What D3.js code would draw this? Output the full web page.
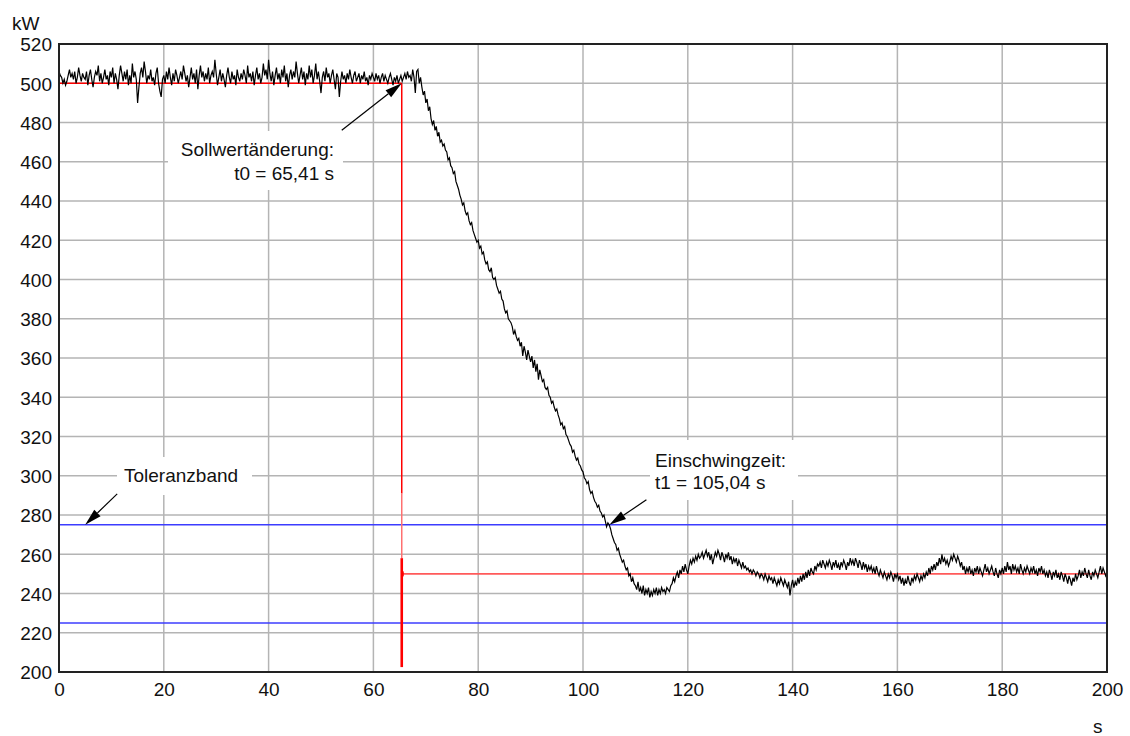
<!DOCTYPE html>
<html>
<head>
<meta charset="utf-8">
<script src="https://cdn.jsdelivr.net/npm/d3@7"></script>
<style>
  html, body { margin: 0; padding: 0; background: #fff; }
  svg { display: block; font-family: "Liberation Sans", Arial, Helvetica, sans-serif; }
</style>
</head>
<body>
<svg id="chart" width="1130" height="736"></svg>
<script>
// Leistungsverlauf bei Sollwertsprung 500 kW -> 250 kW, Abtastung alle 0,25 s
const sampleStep = 0.25;
const powerKW = [
  // 0 - 4.75 s
  506,504,503,500,502,499,501,504,507,503,505,502,506,500,503,508,504,501,505,503,
  // 5 - 9.75 s
  502,506,499,504,507,502,498,503,506,504,509,501,505,500,503,507,502,504,499,506,
  // 10 - 14.75 s
  503,508,500,505,502,497,504,509,505,501,506,502,507,499,504,500,510,503,506,502,
  // 15 - 19.75 s
  490,498,505,508,503,511,506,500,504,502,507,501,503,499,505,508,500,496,493,502,
  // 20 - 24.75 s
  504,500,506,502,508,503,499,505,501,507,504,500,503,506,502,509,505,501,504,498,
  // 25 - 29.75 s
  503,508,502,505,500,507,497,504,509,503,506,501,505,502,508,500,504,506,503,512,
  // 30 - 34.75 s
  505,499,503,507,501,505,502,498,504,508,503,500,506,502,504,499,507,503,501,505,
  // 35 - 39.75 s
  502,507,504,500,509,503,505,501,506,499,504,508,502,505,500,503,510,504,507,502,
  // 40 - 44.75 s
  512,505,501,506,499,504,508,502,505,500,507,503,509,501,505,498,504,507,502,506,
  // 45 - 49.75 s
  503,511,505,500,504,508,502,506,499,505,502,509,503,507,500,504,510,502,506,501,
  // 50 - 54.75 s
  495,503,506,501,508,503,505,500,504,507,502,497,505,503,493,501,506,502,504,500,
  // 55 - 59.75 s
  505,502,507,503,500,504,506,501,503,505,500,504,502,506,501,503,499,504,502,505,
  // 60 - 64.75 s
  503,501,505,502,504,500,503,505,501,504,502,500,503,505,502,499,503,501,504,500,
  // 65 - 69.75 s
  502,504,501,503,505,502,506,503,504,501,507,503,495,506,507,500,503,498,494,496,
  // 70 - 74.75 s
  490,492,486,488,482,479,481,476,478,473,475,470,471,468,469,466,465,461,462,458,
  // 75 - 79.75 s
  457,454,455,450,448,446,443,441,438,439,435,433,434,430,428,429,425,423,421,419,
  // 80 - 84.75 s
  420,416,417,413,414,410,408,409,405,404,406,401,400,401,397,395,393,394,390,389,
  // 85 - 89.75 s
  385,383,384,380,379,378,376,372,374,371,369,370,366,368,361,366,363,359,364,361,
  // 90 - 94.75 s
  358,361,355,359,353,357,349,354,351,348,349,345,344,345,341,340,337,338,335,333,
  // 95 - 99.75 s
  334,331,329,326,327,324,325,321,320,318,316,315,312,313,310,308,309,306,305,303,
  // 100 - 104.75 s
  302,299,298,296,297,293,291,292,289,287,286,284,285,282,281,279,280,277,274,276,
  // 105 - 109.75 s
  275,273,270,268,266,265,262,263,260,258,256,257,254,252,253,249,250,246,248,245,
  // 110 - 114.75 s
  244,242,246,241,243,240,244,239,242,240,243,238,241,239,242,240,243,239,242,240,
  // 115 - 119.75 s
  243,241,242,240,243,242,241,244,245,248,246,249,251,248,252,250,254,251,255,252,
  // 120 - 124.75 s
  250,254,257,255,258,256,259,257,260,258,259,261,258,260,262,259,261,257,260,255,
  // 125 - 129.75 s
  258,261,259,262,260,257,261,259,256,260,258,261,257,259,255,258,256,258,254,257,
  // 130 - 134.75 s
  255,253,256,253,254,252,253,251,252,250,252,251,249,251,250,248,250,249,247,250,
  // 135 - 139.75 s
  248,246,249,247,248,245,248,246,244,247,245,248,246,244,247,245,243,246,239,244,
  // 140 - 144.75 s
  247,243,246,244,248,245,249,246,250,247,251,248,252,249,253,251,250,254,252,255,
  // 145 - 149.75 s
  254,256,253,257,255,253,256,254,257,255,252,256,254,257,253,255,252,256,254,257,
  // 150 - 154.75 s
  255,252,256,254,258,255,257,254,258,256,253,257,255,252,256,253,255,251,254,252,
  // 155 - 159.75 s
  254,251,253,250,254,251,249,252,250,248,251,249,247,250,248,251,249,246,250,248,
  // 160 - 164.75 s
  250,247,249,245,248,244,247,245,249,246,244,248,246,249,247,250,248,246,249,247,
  // 165 - 169.75 s
  250,248,251,249,253,250,254,252,255,252,256,254,258,255,260,256,258,255,257,254,
  // 170 - 174.75 s
  256,259,257,260,258,256,259,257,254,256,252,254,250,253,251,254,250,252,249,253,
  // 175 - 179.75 s
  251,254,250,253,251,249,252,255,251,253,250,252,254,251,249,253,250,248,252,250,
  // 180 - 184.75 s
  253,250,254,251,256,252,254,250,255,252,254,251,253,250,255,252,250,253,251,254,
  // 185 - 189.75 s
  252,250,253,251,254,250,252,249,253,251,254,250,252,249,251,248,252,250,247,251,
  // 190 - 194.75 s
  249,252,248,250,247,251,249,246,250,248,245,249,247,244,248,246,250,247,249,252,
  // 195 - 200 s
  248,251,249,253,250,248,252,249,247,251,249,252,250,248,251,254,250,253,251,249,
  251
];

// Sollwerte und Toleranzband
const setpointOld = 500;
const setpointNew = 250;
const t0 = 65.41;          // Zeitpunkt der Sollwertänderung
const t1 = 105.04;         // Einschwingzeit
const stepLineBottom = 202.5;
const stepThinEnd = 291;
const stepThickStart = 258;
const toleranceBand = [225, 275];
const toleranceArrowTime = 5;

const xTickValues = [0, 20, 40, 60, 80, 100, 120, 140, 160, 180, 200];
const yTickValues = [200, 220, 240, 260, 280, 300, 320, 340, 360, 380, 400, 420, 440, 460, 480, 500, 520];

const annotations = [
  { lines: ["Sollwertänderung:", "t0 = 65,41 s"] },
  { lines: ["Einschwingzeit:", "t1 = 105,04 s"] },
  { lines: ["Toleranzband"] }
];

const svg = d3.select("#chart");
const plot = { left: 59, right: 1107, top: 44, bottom: 672 };

const x = d3.scaleLinear().domain([0, 200]).range([plot.left, plot.right]);
const y = d3.scaleLinear().domain([200, 520]).range([plot.bottom, plot.top]);

svg.append("rect").attr("width", 1130).attr("height", 736).attr("fill", "#fff");

// Gitter
const grid = svg.append("g").attr("stroke", "#b4b4b4").attr("stroke-width", 1.5);
grid.selectAll("line.v").data(xTickValues.slice(1, -1)).join("line")
  .attr("x1", d => x(d)).attr("x2", d => x(d))
  .attr("y1", plot.top).attr("y2", plot.bottom);
grid.selectAll("line.h").data(yTickValues.slice(1, -1)).join("line")
  .attr("x1", plot.left).attr("x2", plot.right)
  .attr("y1", d => y(d)).attr("y2", d => y(d));

// Achsenbeschriftung über d3-Achsen (ohne Linien)
const fontSize = 19;
const xAxis = svg.append("g")
  .attr("transform", `translate(0,${plot.bottom})`)
  .call(d3.axisBottom(x).tickValues(xTickValues).tickSize(0).tickPadding(11).tickFormat(d3.format("d")));
const yAxis = svg.append("g")
  .attr("transform", `translate(${plot.left},0)`)
  .call(d3.axisLeft(y).tickValues(yTickValues).tickSize(0).tickPadding(7).tickFormat(d3.format("d")));
[xAxis, yAxis].forEach(a => {
  a.select(".domain").remove();
  a.selectAll("text").attr("font-size", fontSize).attr("fill", "#111")
    .attr("font-family", "'Liberation Sans', Arial, sans-serif");
});
xAxis.selectAll("text").attr("dy", "0.71em");
yAxis.selectAll("text").attr("dy", "0.36em");

svg.append("text").attr("x", 12).attr("y", 30).attr("font-size", fontSize).attr("fill", "#111").text("kW");
svg.append("text").attr("x", x(200) - 14).attr("y", 733).attr("font-size", fontSize).attr("fill", "#111").text("s");

// weiße Hinterlegung der Beschriftungen
const boxes = [
  { x0: 168, x1: 343, y0: 131, y1: 190 },
  { x0: 650, x1: 798, y0: 440, y1: 500 },
  { x0: 117, x1: 252, y0: 457, y1: 495 }
];
svg.append("g").selectAll("rect").data(boxes).join("rect")
  .attr("x", d => d.x0).attr("y", d => d.y0)
  .attr("width", d => d.x1 - d.x0).attr("height", d => d.y1 - d.y0)
  .attr("fill", "#fff");

// Toleranzband
svg.append("g").selectAll("line").data(toleranceBand).join("line")
  .attr("x1", x(0)).attr("x2", x(200))
  .attr("y1", d => y(d)).attr("y2", d => y(d))
  .attr("stroke", "#3c3cff").attr("stroke-width", 1.6);

// Sollwertverlauf
const sp = svg.append("g");
sp.append("line")
  .attr("x1", x(0)).attr("x2", x(t0)).attr("y1", y(setpointOld)).attr("y2", y(setpointOld))
  .attr("stroke", "#ff0000").attr("stroke-width", 1.5);
sp.append("line")
  .attr("x1", x(t0)).attr("x2", x(200)).attr("y1", y(setpointNew)).attr("y2", y(setpointNew))
  .attr("stroke", "#ff5a5a").attr("stroke-width", 1.6);
sp.append("line")
  .attr("x1", x(t0)).attr("x2", x(t0)).attr("y1", y(setpointOld)).attr("y2", y(stepThinEnd))
  .attr("stroke", "#ff0000").attr("stroke-width", 1.5);
sp.append("line")
  .attr("x1", x(t0)).attr("x2", x(t0)).attr("y1", y(stepThinEnd)).attr("y2", y(stepThickStart))
  .attr("stroke", "#ff7070").attr("stroke-width", 1.5);
sp.append("line")
  .attr("x1", x(t0)).attr("x2", x(t0)).attr("y1", y(stepThickStart)).attr("y2", y(stepLineBottom))
  .attr("stroke", "#ff0000").attr("stroke-width", 2.6);
sp.append("line")
  .attr("x1", x(t0) + 1).attr("x2", x(t0) + 1).attr("y1", y(setpointNew) - 2.5).attr("y2", y(setpointNew) + 2.5)
  .attr("stroke", "#ff0000").attr("stroke-width", 2);

// Messkurve
const line = d3.line()
  .x((d, i) => x(i * sampleStep))
  .y(d => y(d));
svg.append("path").datum(powerKW)
  .attr("d", line)
  .attr("fill", "none").attr("stroke", "#000").attr("stroke-width", 1.2)
  .attr("stroke-linejoin", "miter");

// Pfeile zu markanten Punkten
function arrow(tipX, tipY, dx, dy) {
  const tailX = tipX + dx, tailY = tipY + dy;
  const len = Math.hypot(dx, dy);
  const ux = -dx / len, uy = -dy / len;     // Richtung zur Spitze
  const head = 17, half = 4.5;
  const bx = tipX - ux * head, by = tipY - uy * head;
  const g = svg.append("g");
  g.append("line").attr("x1", tailX).attr("y1", tailY).attr("x2", bx).attr("y2", by)
    .attr("stroke", "#000").attr("stroke-width", 1.2);
  g.append("path")
    .attr("d", `M${tipX},${tipY}L${bx - uy * half},${by + ux * half}L${bx + uy * half},${by - ux * half}Z`)
    .attr("fill", "#000");
}
arrow(x(t0), y(setpointOld), -60, 47);
arrow(x(t1), y(toleranceBand[1]), 37, -25);
arrow(x(toleranceArrowTime), y(toleranceBand[1]), 32, -31);

// Beschriftungen
const txt = svg.append("g").attr("font-size", fontSize).attr("fill", "#111");
txt.append("text").attr("x", 334).attr("y", 155.5).attr("text-anchor", "end").text(annotations[0].lines[0]);
txt.append("text").attr("x", 334).attr("y", 179.5).attr("text-anchor", "end").text(annotations[0].lines[1]);
txt.append("text").attr("x", 655).attr("y", 466.5).text(annotations[1].lines[0]);
txt.append("text").attr("x", 655).attr("y", 488.5).text(annotations[1].lines[1]);
txt.append("text").attr("x", 124).attr("y", 482).text(annotations[2].lines[0]);

// Rahmen
svg.append("rect")
  .attr("x", plot.left).attr("y", plot.top)
  .attr("width", plot.right - plot.left).attr("height", plot.bottom - plot.top)
  .attr("fill", "none").attr("stroke", "#222").attr("stroke-width", 2);
</script>
</body>
</html>
